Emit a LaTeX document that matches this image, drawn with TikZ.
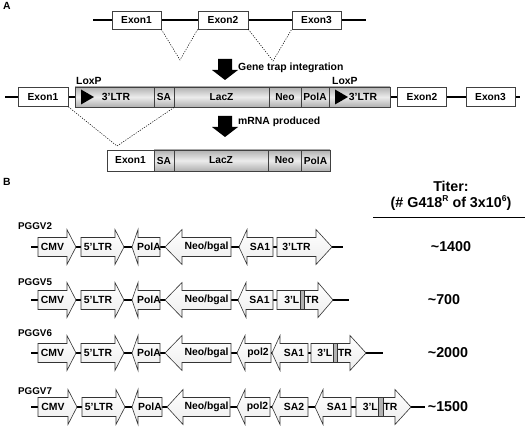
\documentclass[tikz,border=0pt]{standalone}
\usepackage{fontspec}
\setmainfont{Liberation Sans}
\newcommand\RArr[6]{%
  \path[arrbox] (#2,#5-9.5) -- (#3,#5-9.5) -- (#3,#5-17.5) -- (#4,#5) -- (#3,#5+17.5) -- (#3,#5+9.5) -- (#2,#5+9.5) -- cycle;
  \node[albl] (#1) at ({(#2+#3)/2},#5) {#6};}
\newcommand\LArr[6]{%
  \path[arrbox] (#4,#5-9.5) -- (#3,#5-9.5) -- (#3,#5-17.5) -- (#2,#5) -- (#3,#5+17.5) -- (#3,#5+9.5) -- (#4,#5+9.5) -- cycle;
  \node[albl] (#1) at ({(#3+#4)/2},#5) {#6};}
\newcommand\mysup[1]{\raisebox{0.75ex}{\fontsize{8.5}{9}\selectfont #1}}
\begin{document}
\begin{tikzpicture}[x=1pt,y=-1pt,
  lbl/.style={font=\fontsize{10.4}{12}\selectfont\bfseries, inner sep=0pt},
  albl/.style={font=\fontsize{10.4}{12}\selectfont\bfseries, inner sep=0pt},
  rowlbl/.style={font=\fontsize{9.8}{11}\selectfont\bfseries, inner sep=0pt, anchor=west},
  big/.style={font=\fontsize{14.3}{16}\selectfont\bfseries, inner sep=0pt},
  backbone/.style={line width=1.4pt},
  exon/.style={draw=black!75, line width=0.7pt, fill=white, minimum height=18pt, inner sep=0pt, font=\fontsize{10.2}{12}\selectfont\bfseries},
  seg/.style={draw=black!75, line width=0.6pt, top color=gray!62, bottom color=gray!62, middle color=gray!15, minimum height=20pt, inner sep=0pt, font=\fontsize{10.2}{12}\selectfont\bfseries},
  wseg/.style={draw=black!75, line width=0.6pt, fill=white, minimum height=20pt, inner sep=0pt, font=\fontsize{10.2}{12}\selectfont\bfseries},
  spl/.style={dash pattern=on 1.2pt off 1.3pt, line width=0.5pt},
  arrbox/.style={draw=black!80, line width=0.6pt, top color=white, bottom color=gray!14},
  blk/.style={fill=black},
  bar/.style={draw=black!80, line width=0.4pt, fill=gray!60, minimum width=4.5pt, minimum height=19pt, inner sep=0pt}]
\useasboundingbox (0,0) rectangle (529,427);

% ---------- Panel A ----------
\node[lbl, anchor=west] (A) at (3,6) {A};

\coordinate (t0) at (93,20);
\coordinate (t1) at (366,20);
\draw[backbone] (t0) -- (t1);
\node[exon, minimum width=49pt] (e1) at (136.5,20) {Exon1};
\node[exon, minimum width=50pt] (e2) at (223,20) {Exon2};
\node[exon, minimum width=49pt] (e3) at (316.5,20) {Exon3};
\coordinate (v1) at (180,60);
\coordinate (v2) at (273,61);
\draw[spl] (e1.south east) -- (v1) -- (e2.south west);
\draw[spl] (e2.south east) -- (v2) -- (e3.south west);

\fill[blk] (218,59) -- (232,59) -- (232,70) -- (238,70) -- (225,80) -- (212,70) -- (218,70) -- cycle;
\node[lbl, anchor=west] (gti) at (238,68) {Gene trap integration};

\node[lbl, anchor=west] (lx1) at (76,81) {LoxP};
\node[lbl, anchor=west] (lx2) at (332,81) {LoxP};

\coordinate (g0) at (5,97);
\coordinate (g1) at (520,97);
\draw[backbone] (g0) -- (g1);
\node[exon, minimum width=50pt, minimum height=19pt] (ge1) at (43,97) {Exon1};
\node[seg, minimum width=79pt] (c1) at (114.5,97) {};
\node[seg, minimum width=20pt] (c2) at (164,97) {SA};
\node[seg, minimum width=95pt] (c3) at (221.5,97) {LacZ};
\node[seg, minimum width=32pt] (c4) at (285,97) {Neo};
\node[seg, minimum width=28pt] (c5) at (315,97) {PolA};
\node[seg, minimum width=61pt] (c6) at (359.5,97) {};
\fill (81,89.5) -- (94,97) -- (81,104.5) -- cycle;
\fill (335,89.5) -- (348,97) -- (335,104.5) -- cycle;
\node[lbl] (ltr1) at (116,97) {3’LTR};
\node[lbl] (ltr2) at (363,97) {3’LTR};
\node[exon, minimum width=49pt, minimum height=19pt] (ge2) at (422,97) {Exon2};
\node[exon, minimum width=49pt, minimum height=19pt] (ge3) at (490.5,97) {Exon3};

\coordinate (v3) at (117,146);
\draw[spl] (ge1.south east) -- (v3) -- (c2.south east);

\fill[blk] (218,116) -- (232,116) -- (232,127) -- (238,127) -- (225,137) -- (212,127) -- (218,127) -- cycle;
\node[lbl, anchor=west] (mp) at (238,122) {mRNA produced};

\node[wseg, minimum width=47pt, minimum height=21pt] (m1) at (130.5,160.5) {Exon1};
\node[seg, minimum width=20pt, minimum height=21pt] (m2) at (164,160.5) {SA};
\node[seg, minimum width=94pt, minimum height=21pt] (m3) at (221,160.5) {LacZ};
\node[seg, minimum width=33pt, minimum height=21pt] (m4) at (284.5,160.5) {Neo};
\node[seg, minimum width=29pt, minimum height=21pt] (m5) at (315.5,160.5) {PolA};

% ---------- Panel B ----------
\node[lbl, anchor=west] (B) at (3,182) {B};
\node[big] (tt) at (451,186) {Titer:};
\node[big] (tt2) at (451,203) {(\# G418\mysup{R} of 3x10\mysup{6})};
\coordinate (tl0) at (373,217);
\coordinate (tl1) at (525,217);
\draw[line width=0.9pt] (tl0) -- (tl1);

% PGGV2
\node[rowlbl] (p2) at (18,226) {PGGV2};
\coordinate (a0) at (31,247); \coordinate (a1) at (343,247);
\draw[backbone] (a0) -- (a1);
\RArr{a2}{38}{67}{76}{247}{CMV}
\RArr{a3}{81}{115}{124}{247}{5’LTR}
\LArr{a4}{132}{138}{160}{247}{PolA}
\LArr{a5}{165}{182}{231}{247}{Neo/bgal}
\LArr{a6}{239}{247}{273}{247}{SA1}
\RArr{a7}{277}{316}{332}{247}{3’LTR}
\node[big] (r2) at (451,247) {\textasciitilde 1400};

% PGGV5
\node[rowlbl] (p5) at (18,282) {PGGV5};
\coordinate (b0) at (31,300); \coordinate (b1) at (349,300);
\draw[backbone] (b0) -- (b1);
\RArr{b2}{38}{67}{76}{300}{CMV}
\RArr{b3}{81}{115}{124}{300}{5’LTR}
\LArr{b4}{132}{138}{160}{300}{PolA}
\LArr{b5}{165}{182}{231}{300}{Neo/bgal}
\LArr{b6}{238}{246}{273}{300}{SA1}
\RArr{b7}{277}{318}{333}{300}{}
\node[albl, anchor=east] (b7a) at (299.5,300) {3’L};
\node[bar] (b7b) at (302,300) {};
\node[albl, anchor=west] (b7c) at (304.8,300) {TR};
\node[big] (r5) at (444,300) {\textasciitilde 700};

% PGGV6
\node[rowlbl] (p6) at (18,333) {PGGV6};
\coordinate (c0) at (31,353); \coordinate (c1e) at (383,353);
\draw[backbone] (c0) -- (c1e);
\RArr{d2}{38}{67}{76}{353}{CMV}
\RArr{d3}{81}{115}{124}{353}{5’LTR}
\LArr{d4}{132}{138}{160}{353}{PolA}
\LArr{d5}{165}{182}{231}{353}{Neo/bgal}
\LArr{d6}{237}{245}{271}{353}{pol2}
\LArr{d7}{272}{280}{308}{353}{SA1}
\RArr{d8}{311}{350}{366}{353}{}
\node[albl, anchor=east] (d8a) at (332.5,353) {3’L};
\node[bar] (d8b) at (335,353) {};
\node[albl, anchor=west] (d8c) at (337.8,353) {TR};
\node[big] (r6) at (448,353) {\textasciitilde 2000};

% PGGV7
\node[rowlbl] (p7) at (18,391) {PGGV7};
\coordinate (f0) at (31,407); \coordinate (f1) at (425,407);
\draw[backbone] (f0) -- (f1);
\RArr{f2}{38}{68}{77}{407}{CMV}
\RArr{f3}{82}{116}{125}{407}{5’LTR}
\LArr{f4}{132}{138}{162}{407}{PolA}
\LArr{f5}{167}{183}{230}{407}{Neo/bgal}
\LArr{f6}{237}{245}{270}{407}{pol2}
\LArr{f7}{272}{280}{308}{407}{SA2}
\LArr{f8}{315}{323}{351}{407}{SA1}
\RArr{f9}{356}{395}{411}{407}{}
\node[albl, anchor=east] (f9a) at (378,407) {3’L};
\node[bar] (f9b) at (380.5,407) {};
\node[albl, anchor=west] (f9c) at (383.3,407) {TR};
\node[big] (r7) at (448,407) {\textasciitilde 1500};
\end{tikzpicture}
\end{document}
